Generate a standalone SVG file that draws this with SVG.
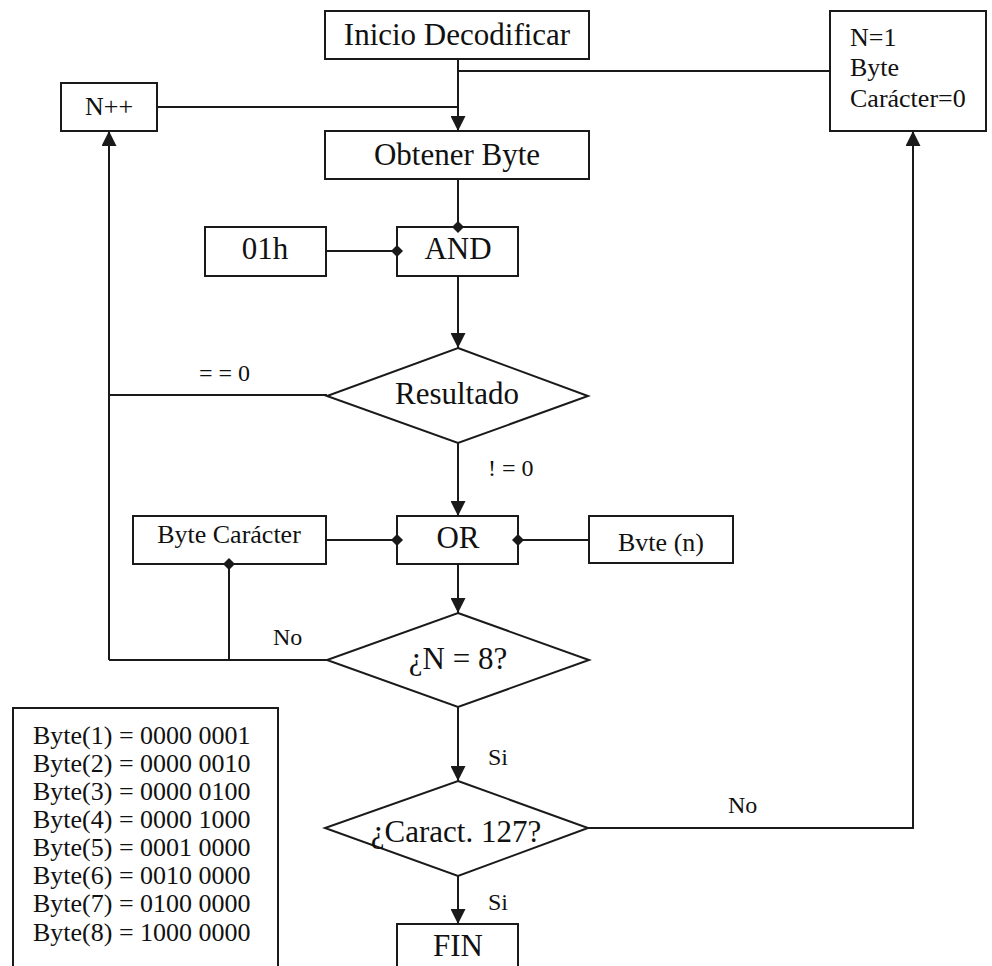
<svg xmlns="http://www.w3.org/2000/svg" width="992" height="966" viewBox="0 0 992 966">
<style>
.box{fill:#fff;stroke:#1a1a1a;stroke-width:2}
.ln{fill:none;stroke:#1a1a1a;stroke-width:2}
text{font-family:"Liberation Serif","Times New Roman",serif;fill:#111}
.t30{font-size:31px;text-anchor:middle}
.t26{font-size:26px}
.lab{font-size:24px}
</style>
<defs>
<marker id="arr" markerUnits="userSpaceOnUse" viewBox="0 0 16 16" refX="16" refY="8" markerWidth="15" markerHeight="15" orient="auto">
<path d="M0,0 L16,8 L0,16 z" fill="#1a1a1a"/>
</marker>
<marker id="dia" markerUnits="userSpaceOnUse" viewBox="0 0 12 12" refX="6" refY="6" markerWidth="12" markerHeight="12" orient="auto">
<path d="M0,6 L6,0 L12,6 L6,12 z" fill="#1a1a1a"/>
</marker>
</defs>
<rect width="992" height="966" fill="#fff"/>

<g id="inicio">
<rect class="box" x="325" y="11" width="264" height="48"/>
<text class="t30" x="457" y="45">Inicio Decodificar</text>
</g>
<g id="init-vars">
<rect class="box" x="830" y="11" width="156" height="120"/>
<text class="t26" x="850" y="46">N=1</text>
<text class="t26" x="850" y="76">Byte</text>
<text class="t26" x="850" y="107">Carácter=0</text>
</g>
<g id="n-inc">
<rect class="box" x="61" y="83" width="96" height="48"/>
<text class="t26" x="109" y="115" text-anchor="middle">N++</text>
</g>
<g id="obtener">
<rect class="box" x="325" y="131" width="264" height="48"/>
<text class="t30" x="457" y="165">Obtener Byte</text>
</g>
<g id="mask">
<rect class="box" x="205" y="227" width="121" height="49"/>
<text class="t30" x="265" y="259">01h</text>
</g>
<g id="and">
<rect class="box" x="397" y="227" width="121" height="49"/>
<text class="t30" x="458" y="259">AND</text>
</g>
<g id="resultado">
<polygon class="box" points="458,348 588,396 458,443 327,396"/>
<text class="t30" x="457" y="404">Resultado</text>
</g>
<g id="byte-caracter">
<rect class="box" x="133" y="516" width="193" height="48"/>
<text class="t26" x="229" y="543" text-anchor="middle">Byte Carácter</text>
</g>
<g id="or">
<rect class="box" x="397" y="516" width="121" height="48"/>
<text class="t30" x="458" y="548">OR</text>
</g>
<g id="byte-n">
<rect class="box" x="589" y="516" width="144" height="47"/>
<text class="t26" x="661" y="551" text-anchor="middle">Bvte (n)</text>
</g>
<g id="n8">
<polygon class="box" points="458,613 589,660 458,707 327,660"/>
<text class="t30" x="458" y="669">¿N = 8?</text>
</g>
<g id="caract">
<polygon class="box" points="458,781 588,828 458,876 325,828"/>
<text class="t30" x="456" y="842">¿Caract. 127?</text>
</g>
<g id="fin">
<rect class="box" x="397" y="924" width="121" height="60"/>
<text class="t30" x="458" y="956">FIN</text>
</g>
<g id="byte-table">
<rect class="box" x="13" y="708" width="265" height="280"/>
<text class="t26" x="33" y="744">Byte(1) = 0000 0001</text>
<text class="t26" x="33" y="772">Byte(2) = 0000 0010</text>
<text class="t26" x="33" y="800">Byte(3) = 0000 0100</text>
<text class="t26" x="33" y="828">Byte(4) = 0000 1000</text>
<text class="t26" x="33" y="856">Byte(5) = 0001 0000</text>
<text class="t26" x="33" y="884">Byte(6) = 0010 0000</text>
<text class="t26" x="33" y="912">Byte(7) = 0100 0000</text>
<text class="t26" x="33" y="941">Byte(8) = 1000 0000</text>
</g>

<g id="connectors">
<path class="ln" d="M458,59 L458,131" marker-end="url(#arr)"/>
<path class="ln" d="M458,71 L830,71"/>
<path class="ln" d="M157,107 L458,107"/>
<path class="ln" d="M458,179 L458,227" marker-end="url(#dia)"/>
<path class="ln" d="M326,251 L397,251" marker-end="url(#dia)"/>
<path class="ln" d="M458,276 L458,348" marker-end="url(#arr)"/>
<path class="ln" d="M327,395 L109,395"/>
<path class="ln" d="M109,660 L109,131" marker-end="url(#arr)"/>
<path class="ln" d="M458,443 L458,516" marker-end="url(#arr)"/>
<path class="ln" d="M326,540 L397,540" marker-end="url(#dia)"/>
<path class="ln" d="M589,540 L518,540" marker-end="url(#dia)"/>
<path class="ln" d="M458,564 L458,613" marker-end="url(#arr)"/>
<path class="ln" d="M327,660 L109,660"/>
<path class="ln" d="M229,660 L229,564" marker-end="url(#dia)"/>
<path class="ln" d="M458,707 L458,781" marker-end="url(#arr)"/>
<path class="ln" d="M588,828 L913,828 L913,131" marker-end="url(#arr)"/>
<path class="ln" d="M458,876 L458,924" marker-end="url(#arr)"/>
<text class="lab" x="199" y="381">= = 0</text>
<text class="lab" x="488" y="476">! = 0</text>
<text class="lab" x="273" y="645">No</text>
<text class="lab" x="488" y="765">Si</text>
<text class="lab" x="728" y="813">No</text>
<text class="lab" x="488" y="910">Si</text>
</g>
</svg>
